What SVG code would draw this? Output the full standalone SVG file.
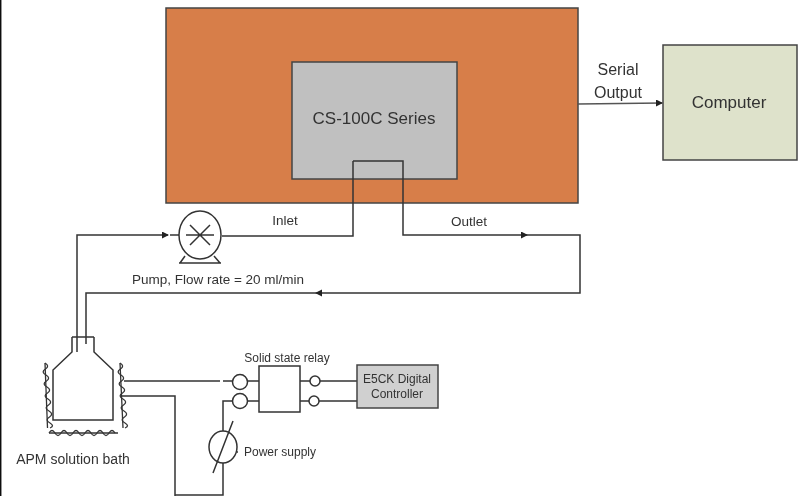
<svg xmlns="http://www.w3.org/2000/svg" width="800" height="496" viewBox="0 0 800 496">
<style>
text{font-family:"Liberation Sans",Arial,sans-serif;fill:#333}
.l{fill:none;stroke:#333;stroke-width:1.5}
.b{stroke:#444;stroke-width:1.5}
.h{fill:none;stroke:#333;stroke-width:1.3}
</style>
<defs>
<filter id="s" x="0" y="0" width="100%" height="100%"><feGaussianBlur stdDeviation="0.4"/></filter>
<marker id="a" markerWidth="8" markerHeight="8" refX="6" refY="3.5" orient="auto" markerUnits="userSpaceOnUse"><path d="M0 0L7 3.500L0 7Z" fill="#222"/></marker>
</defs>
<g filter="url(#s)">
<rect width="800" height="496" fill="#fff"/>
<line x1="0.700" y1="0" x2="0.700" y2="496" stroke="#111" stroke-width="1.500"/>
<g id="chamber"><rect class="b" x="166" y="8" width="412" height="195" fill="#d77e48"/></g>
<g id="cs100c"><rect class="b" x="292" y="62" width="165" height="117" fill="#c0c0c0"/><text x="374" y="124" font-size="17" text-anchor="middle">CS-100C Series</text></g>
<g id="computer"><rect class="b" x="663" y="45" width="134" height="115" fill="#dee2cb"/><text x="729" y="108" font-size="17" text-anchor="middle">Computer</text></g>
<g id="connectors">
<path class="l" d="M353 161V236H222"/>
<path class="l" d="M353 161H403V235H527" marker-end="url(#a)"/>
<path class="l" d="M527 235H580V293H316" marker-end="url(#a)"/>
<path class="l" d="M316 293H86V344"/>
<path class="l" d="M77 352V235H168" marker-end="url(#a)"/>
<path class="l" d="M170 235H179"/>
<path d="M578 104L662 103" fill="none" stroke="#555" stroke-width="1.300" marker-end="url(#a)"/>
<path class="l" d="M124 381H220M223 381H233M122 396H175V496M175 495H223V463M223 431V401H233"/>
<path class="l" d="M248 381H259M248 401H259M300 381H310M300 401H309M320 381H357M319 401H357"/>
</g>
<g id="pump"><ellipse class="l" cx="200" cy="235" rx="21" ry="24" fill="#fff"/><path class="l" d="M190 225L210 245M190 245L210 225M186 235H214M180 263L185 256M220 263L214 256M179 263H221"/></g>
<g id="flask"><path class="l" d="M72 337H94M72 337V352L53 370V420H113V370L94 352V337"/></g>
<g id="heaters">
<path class="h" d="M45 363L47.500 428"/>
<path class="h" d="M45 363q5 3 .5 6q-5 3 .5 6q5 3 .5 6q-5 3 .5 6q5 3 .5 6q-5 3 .5 6q5 3 .5 6q-5 3 .5 6q5 3 .5 6q-5 3 .5 6q5 3 0 5"/>
<path class="h" d="M120 363L123 428"/>
<path class="h" d="M120 363q5 3 .5 6q-5 3 .5 6q5 3 .5 6q-5 3 .5 6q5 3 .5 6q-5 3 .5 6q5 3 .5 6q-5 3 .5 6q5 3 .5 6q-5 3 .5 6q5 3 0 5"/>
<path class="h" d="M49 433H118"/>
<path class="h" d="M49 433q3 -5 6 0q3 5 6 0q3 -5 6 0q3 5 6 0q3 -5 6 0q3 5 6 0q3 -5 6 0q3 5 6 0q3 -5 6 0q3 5 6 0q3 -5 6 0"/>
</g>
<g id="relay"><rect class="l" x="259" y="366" width="41" height="46" fill="#fff"/><circle class="l" cx="240" cy="382" r="7.500" fill="#fff"/><circle class="l" cx="240" cy="401" r="7.500" fill="#fff"/><circle class="l" cx="315" cy="381" r="5" fill="#fff"/><circle class="l" cx="314" cy="401" r="5" fill="#fff"/></g>
<g id="controller"><rect class="b" x="357" y="365" width="81" height="43" fill="#d0d0d0"/><text x="397" y="383" font-size="12" text-anchor="middle">E5CK Digital</text><text x="397" y="398" font-size="12" text-anchor="middle">Controller</text></g>
<g id="power"><ellipse class="l" cx="223" cy="447" rx="14" ry="16" fill="#fff"/><path class="l" d="M233 421L213 473M237 452H238"/></g>
<text x="618" y="75" font-size="16" text-anchor="middle">Serial</text>
<text x="618" y="98" font-size="16" text-anchor="middle">Output</text>
<text x="285" y="225" font-size="13.500" text-anchor="middle">Inlet</text>
<text x="469" y="226" font-size="13.500" text-anchor="middle">Outlet</text>
<text x="218" y="284" font-size="13.500" text-anchor="middle">Pump, Flow rate = 20 ml/min</text>
<text x="287" y="362" font-size="12" text-anchor="middle">Solid state relay</text>
<text x="280" y="456" font-size="12" text-anchor="middle">Power supply</text>
<text x="73" y="464" font-size="14" text-anchor="middle">APM solution bath</text>
</g>
</svg>
